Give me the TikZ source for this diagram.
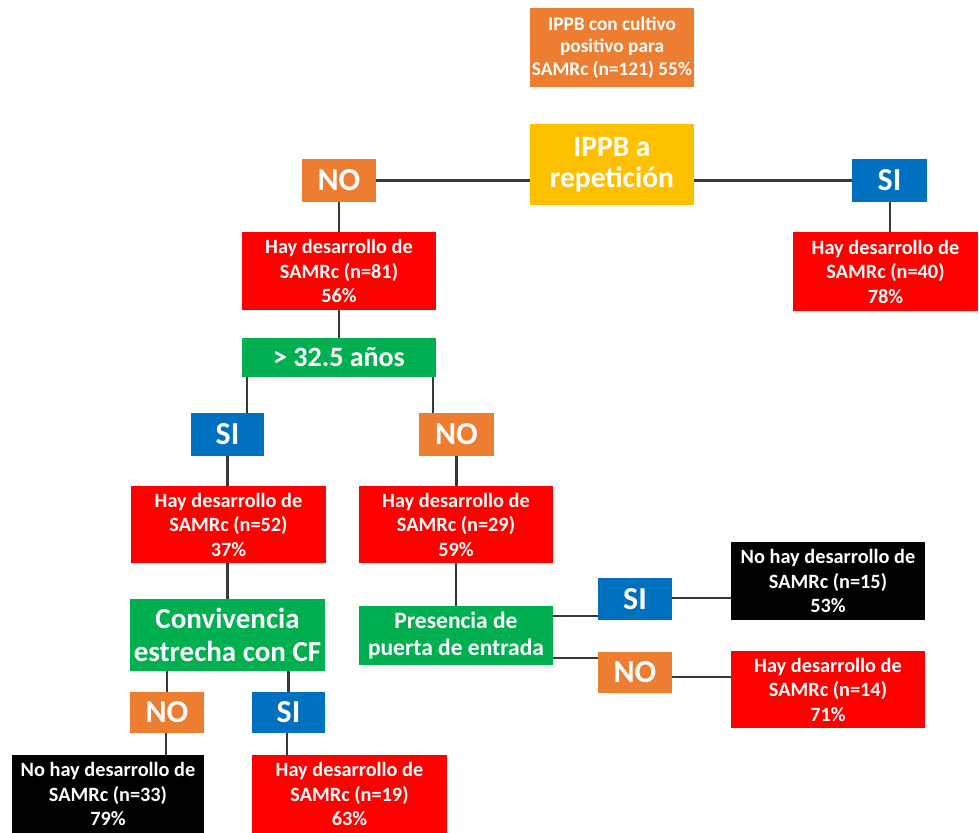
\documentclass[tikz,border=0pt]{standalone}
\usepackage{fontspec}
\setmainfont{Carlito}
\definecolor{corange}{HTML}{ED7D31}
\definecolor{cyellow}{HTML}{FFC000}
\definecolor{cblue}{HTML}{0070C0}
\definecolor{cred}{HTML}{FF0000}
\definecolor{cgreen}{HTML}{00B050}
\definecolor{cline}{HTML}{383838}
\begin{document}
\begin{tikzpicture}[x=1pt,y=-1pt,
  box/.style={rectangle,inner sep=0pt,align=center,text=white,font=\bfseries},
  small/.style={box,font=\fontsize{32}{32}\selectfont\bfseries},
  res/.style={box,minimum width=194pt,minimum height=78pt,font=\fontsize{20.3}{24.5}\selectfont\bfseries},
  link/.style={draw=cline,line width=2.4pt}]
\useasboundingbox (0,0) rectangle (979,832);
\clip (0,0) rectangle (979,832);
\fill[white] (0,0) rectangle (979,832);
% boxes
\node[box,fill=corange,minimum width=164pt,minimum height=79pt,font=\fontsize{19.3}{22.5}\selectfont\bfseries] (top) at (612,47.5) {IPPB con cultivo\\positivo para\\SAMRc (n=121) 55\%};
\node[box,fill=cyellow,minimum width=164pt,minimum height=81pt,font=\fontsize{29.5}{31}\selectfont\bfseries] (rep) at (612,164.5) {IPPB a\\repetición};
\node[small,fill=corange,minimum width=74pt,minimum height=43pt] (no1) at (339,180.5) {NO};
\node[small,fill=cblue,minimum width=75pt,minimum height=43pt] (si1) at (889.5,180.5) {SI};
\node[res,fill=cred] (r81) at (339,271) {Hay desarrollo de\\SAMRc (n=81)\\56\%};
\node[res,fill=cred,minimum width=185pt,minimum height=79pt] (r40) at (885.5,271.5) {Hay desarrollo de\\SAMRc (n=40)\\78\%};
\node[box,fill=cgreen,minimum width=194pt,minimum height=39pt,font=\fontsize{28}{28}\selectfont\bfseries] (g32) at (339,357.5) {> 32.5 años};
\node[small,fill=cblue,minimum width=73pt,minimum height=43pt] (si2) at (227.5,434.5) {SI};
\node[small,fill=corange,minimum width=75pt,minimum height=43pt] (no2) at (456.5,434.5) {NO};
\node[res,fill=cred,minimum width=195pt,minimum height=77pt] (r52) at (228.5,524.5) {Hay desarrollo de\\SAMRc (n=52)\\37\%};
\node[res,fill=cred,minimum height=77pt] (r29) at (456,524.5) {Hay desarrollo de\\SAMRc (n=29)\\59\%};
\node[box,fill=cgreen,minimum width=195pt,minimum height=72pt,font=\fontsize{29}{33}\selectfont\bfseries] (conv) at (227.5,635) {Convivencia\\estrecha con CF};
\node[box,fill=cgreen,minimum width=194pt,minimum height=59pt,font=\fontsize{23.5}{27}\selectfont\bfseries] (pres) at (456,635.5) {Presencia de\\puerta de entrada};
\node[small,fill=cblue,minimum width=74pt,minimum height=42pt] (si3) at (635,599) {SI};
\node[small,fill=corange,minimum width=74pt,minimum height=41pt] (no3) at (635,672.5) {NO};
\node[res,fill=black] (b15) at (828,581) {No hay desarrollo de\\SAMRc (n=15)\\53\%};
\node[res,fill=cred,minimum height=77pt] (r14) at (828,689.5) {Hay desarrollo de\\SAMRc (n=14)\\71\%};
\node[small,fill=corange,minimum width=74pt,minimum height=41pt] (no4) at (167,712.5) {NO};
\node[small,fill=cblue,minimum width=73pt,minimum height=41pt] (si4) at (288.5,712.5) {SI};
\node[res,fill=black,minimum width=192pt] (b33) at (108,794) {No hay desarrollo de\\SAMRc (n=33)\\79\%};
\node[res,fill=cred,minimum width=195pt] (r19) at (349.5,794) {Hay desarrollo de\\SAMRc (n=19)\\63\%};
% connectors
\draw[link] (no1.east) -- (no1.east -| rep.west);
\draw[link] (rep.east |- si1.west) -- (si1.west);
\draw[link] (no1.south) -- (r81.north);
\draw[link] ([xshift=0.5pt]si1.south) -- ([xshift=0.5pt]si1.south |- r40.north);
\draw[link] (r81.south) -- (g32.north);
\draw[link] ([xshift=5pt]g32.south west) -- ([xshift=5pt]g32.south west |- si2.north);
\draw[link] ([xshift=-3pt]g32.south east) -- ([xshift=-3pt]g32.south east |- no2.north);
\draw[link] (si2.south) -- (si2.south |- r52.north);
\draw[link] (no2.south) -- (no2.south |- r29.north);
\draw[link] ([xshift=-1pt]r52.south) -- ([xshift=-1pt]r52.south |- conv.north);
\draw[link] (r29.south) -- (pres.north);
\draw[link] ([yshift=19.5pt]pres.east) -- ([yshift=19.5pt]pres.east -| si3.west);
\draw[link] ([yshift=-22.5pt]pres.east) -- ([yshift=-22.5pt]pres.east -| no3.west);
\draw[link] ([yshift=1pt]si3.east) -- ([yshift=1pt]si3.east -| b15.west);
\draw[link] ([yshift=-4.5pt]no3.east) -- ([yshift=-4.5pt]no3.east -| r14.west);
\draw[link] (no4.north |- conv.south) -- (no4.north);
\draw[link] (si4.north |- conv.south) -- (si4.north);
\draw[link] ([xshift=-1pt]no4.south) -- ([xshift=-1pt]no4.south |- b33.north);
\draw[link] ([xshift=-1.5pt]si4.south) -- ([xshift=-1.5pt]si4.south |- r19.north);
\end{tikzpicture}
\end{document}
